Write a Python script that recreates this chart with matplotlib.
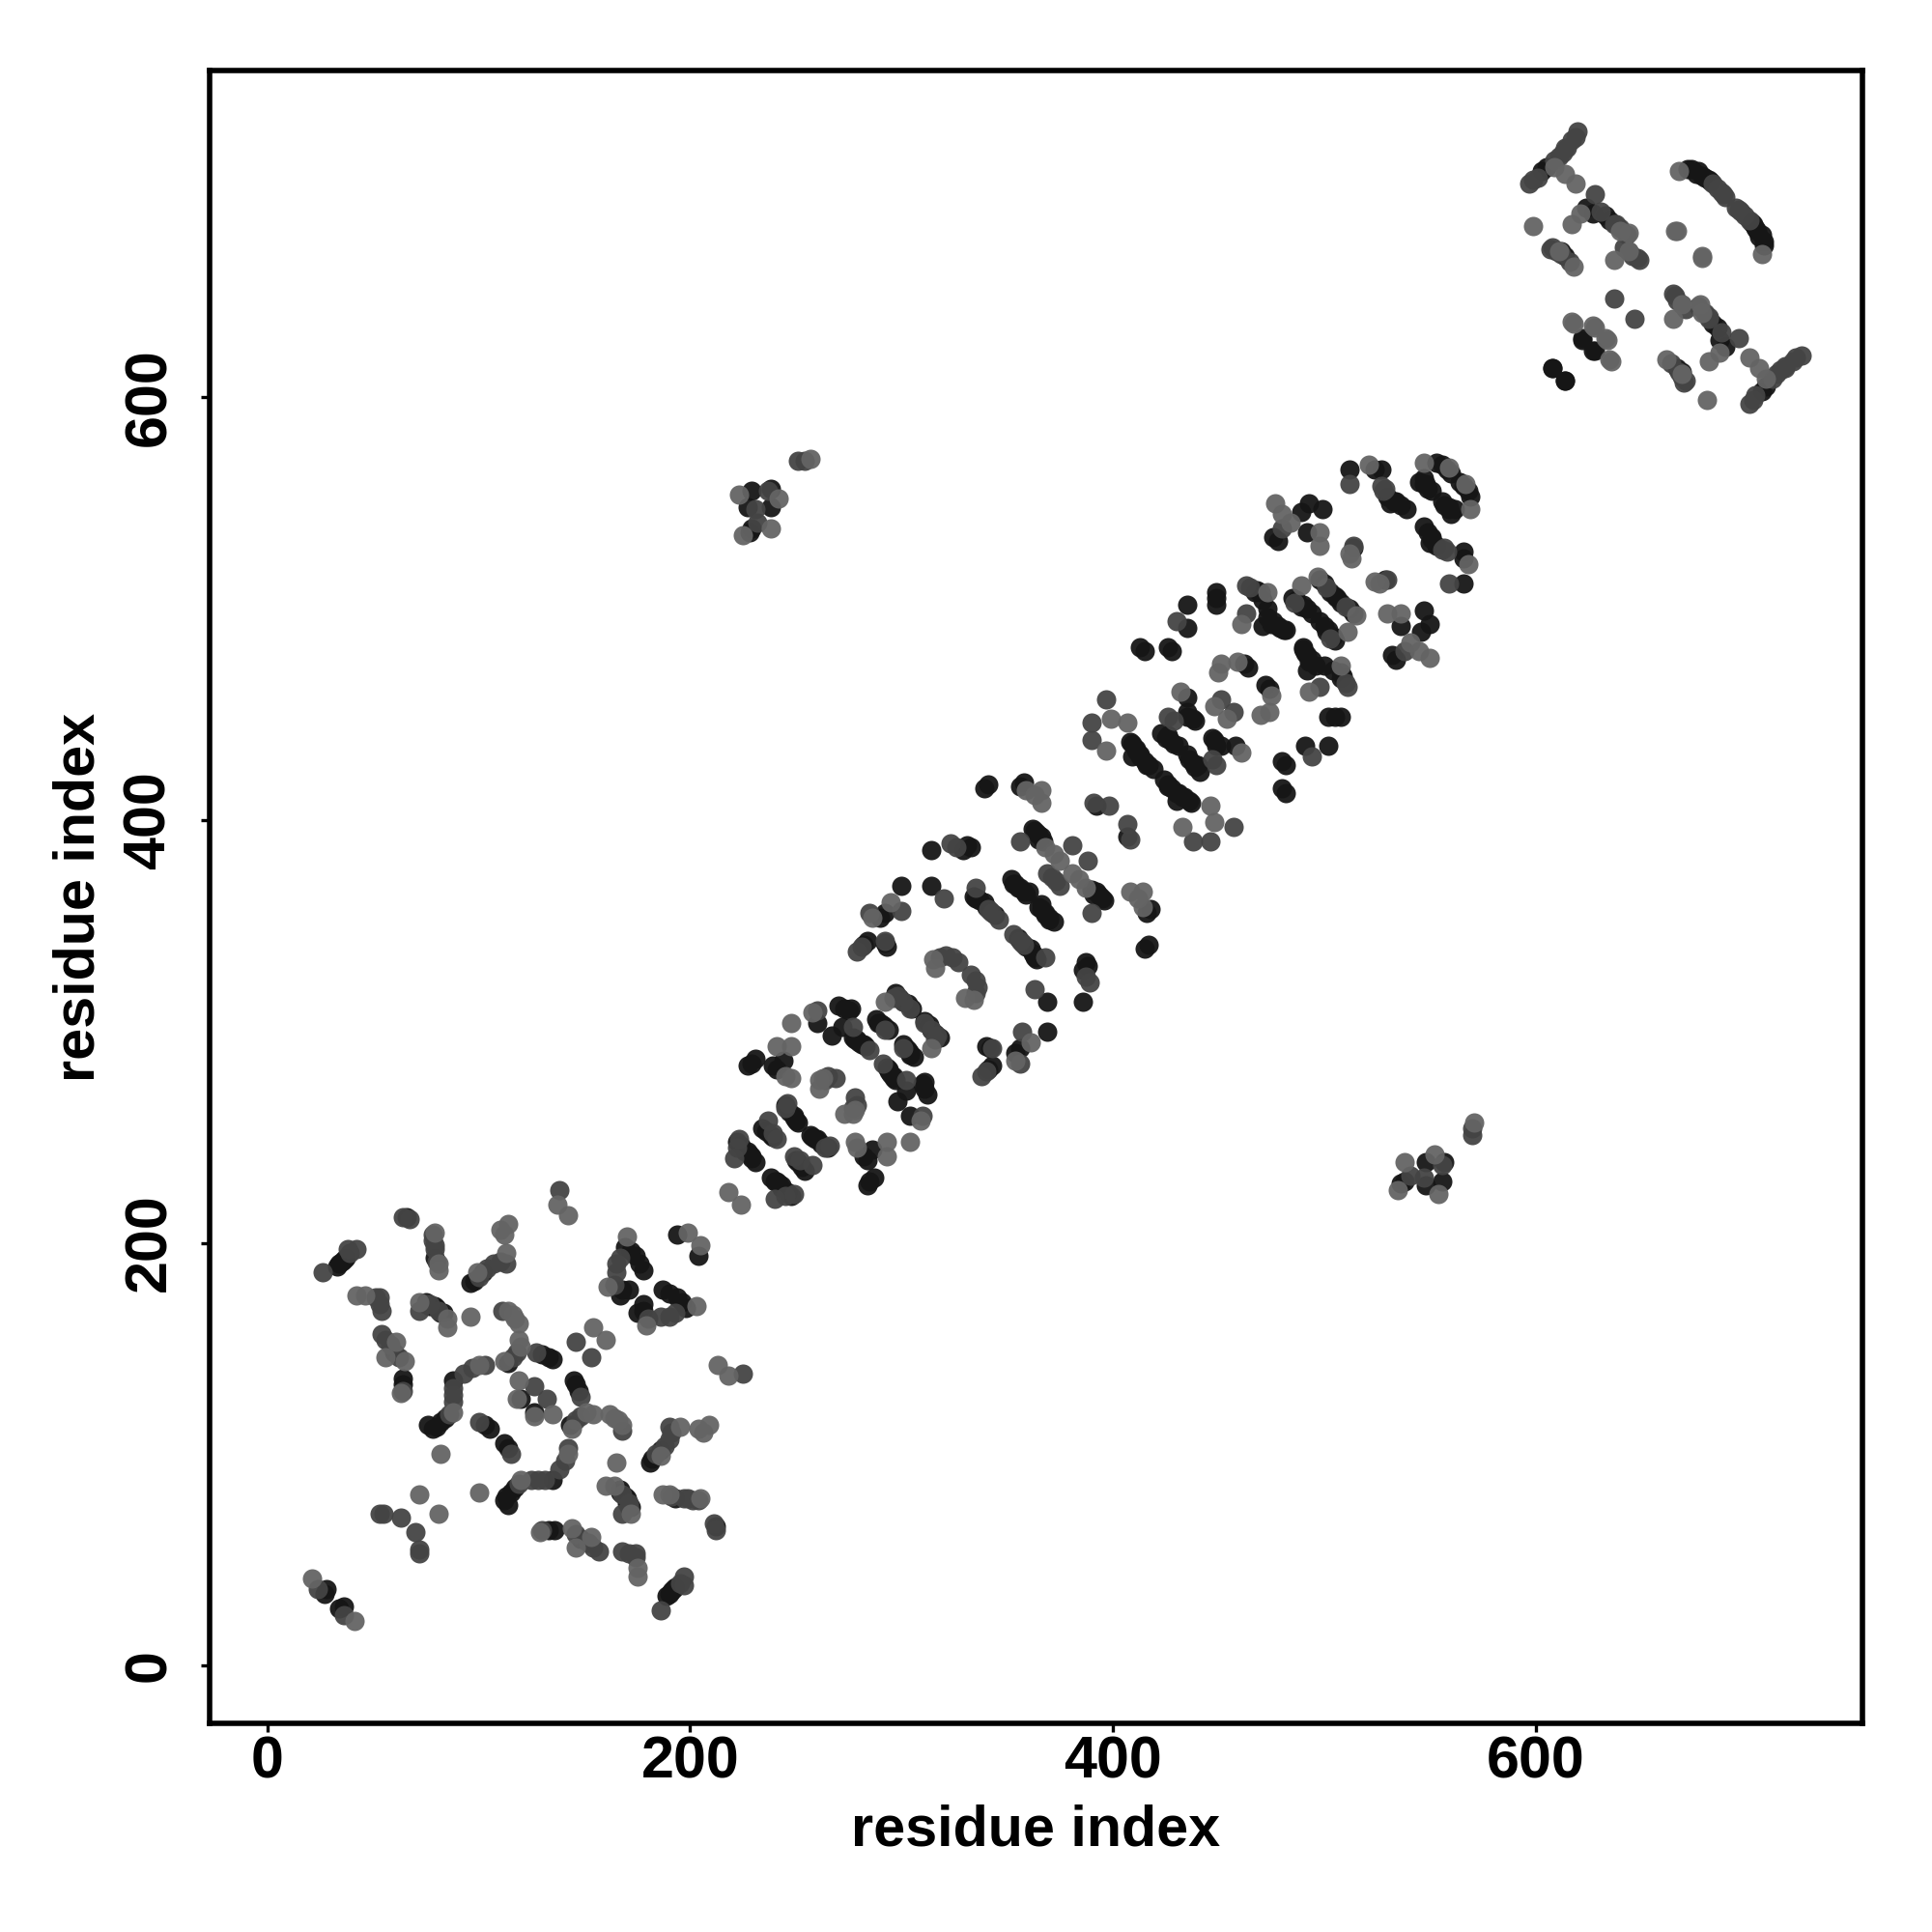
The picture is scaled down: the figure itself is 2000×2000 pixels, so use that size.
import numpy as np
import matplotlib
matplotlib.use('Agg')
import matplotlib.pyplot as plt

plt.rcParams['font.family'] = ['Liberation Sans', 'DejaVu Sans']

# contact pairs (residue a, residue b), the map is symmetric so only a<b is listed
dark_pairs = [
    (27,34),(28,36),(33,189),(35,191),(37,193),(66,212),(79,193),(96,181),(98,182),(102,186),
    (79,170),(83,167),(60,148),(64,136),(64,133),(88,135),(84,117),(82,115),(80,113),(78,112),
    (76,114),(114,143),(130,147),(133,146),(135,145),(120,126),(103,114),(105,112),(194,204),
    (169,198),(172,196),(174,194),(178,187),(176,190),(167,175),(168,178),(171,178),
    (226,243),(229,240),(231,238),(228,242),(236,253),(238,251),(247,262),(250,258),(249,260),
    (227,284),(229,285),(231,287),(239,284),(241,282),(244,286),(260,304),(267,298),(272,302),
    (270,312),(273,311),(275,310),(276,311),(278,296),(280,295),(282,294),(289,304),(291,303),
    (284,343),(282,341),(293,340),(292,342),(292,356),(290,354),(300,369),(314,386),(329,386),
    (333,387),(331,388),(314,369),(335,363),(337,362),(339,361),(353,370),(355,368),(358,366),
    (360,366),(364,394),(362,396),(366,392),(365,391),(341,417),(339,415),(356,416),(358,418),
    (392,407),(408,437),(409,430),(413,431),(416,426),(411,434),(435,458),(435,449),(439,447),
    (423,441),(429,436),(426,440),(464,472),(462,474),(413,482),(415,480),(428,480),(426,482),
    (435,491),(435,502),(449,502),(449,508),(449,505),(467,508),(473,500),(475,493),(478,492),
    (482,490),(471,504),(492,500),(490,502),(512,566),(527,566),(524,566),(531,550),(534,551),
    (539,547),(545,560),(549,557),(547,559),(556,568),(553,569),(493,550),(499,547),(489,546),
    (476,534),(478,532),(492,536),(529,514),(605,709),(603,707),(624,690),(627,687),(633,686),
    (635,684),(614,667),(612,669),(622,628),(627,622),(608,614),(614,608),(679,705),(682,703),
    (677,707),(229,556),(227,548),(238,557),(238,548),(228,536),(229,538),
    # denser parts of the strands
    (672,708),(674,708),(676,706),(680,704),(683,702),(547,562),(548,559),(551,556),(558,566),
    (560,564),(530,553),(533,551),(536,549),(485,505),(487,504),(489,501),(494,498),(498,514),
    (500,512),(503,508),(505,506),(471,492),(473,496),(476,494),(479,491),(481,490),(468,509),
    (470,508),(435,451),(438,448),(425,439),(427,438),(431,435),(409,436),(411,433),(413,430),
    (415,428),(417,426),(419,424),(222,248),(224,246),(227,243),(229,241),(234,254),(239,250),
    (245,265),(249,259),(251,257),(277,297),(279,296),(281,294),(283,293),(288,306),(290,304),
    (292,302),(294,301),(297,318),(299,316),(301,314),(303,313),(305,311),(352,372),(354,370),
    (356,368),(359,365),(334,364),(336,363),(340,359),(342,357),(344,355),(363,395),(365,393),
    (367,390),(75,172),(77,170),(80,169),(82,167),(34,190),(36,192),
]
mid_pairs = [
    (24,36),(26,186),(39,195),(42,197),(38,197),(64,212),(67,211),(78,204),(78,201),(79,199),
    (79,197),(80,191),(100,184),(104,188),(107,190),(110,191),(113,190),(51,174),(53,174),
    (53,171),(54,168),(72,168),(75,171),(77,171),(81,168),(111,168),(146,153),(54,157),(56,154),
    (58,152),(62,146),(64,130),(103,142),(97,141),(93,138),(88,131),(88,128),(88,125),(86,119),
    (118,148),(116,146),(127,148),(126,132),(100,115),(55,72),(53,72),(63,70),(138,225),
    (165,190),(167,193),(165,186),(164,180),(223,249),(221,240),(222,245),(237,258),(241,249),
    (239,252),(246,266),(245,264),(265,279),(269,278),(264,277),(260,310),(277,302),(285,291),
    (292,301),(298,317),(304,311),(301,314),(296,316),(279,338),(281,340),(292,343),(285,356),
    (300,357),(323,389),(326,387),(320,363),(335,368),(343,356),(346,353),(341,358),(318,335),
    (321,336),(324,335),(327,333),(356,390),(369,375),(371,373),(381,388),(391,408),(398,407),
    (397,457),(390,446),(390,438),(426,449),(429,447),(451,457),(463,511),(463,498),(486,503),
    (501,510),(430,494),(512,559),(529,557),(514,530),(480,538),(620,726),(617,722),(614,718),
    (619,723),(601,704),(597,701),(599,703),(628,696),(637,682),(649,665),(637,647),(607,670),
    (684,701),(689,696),(251,570),(254,570),(231,547),(237,556),(232,541),
    # denser parts of the strands
    (609,712),(611,714),(613,716),(615,718),(686,699),(688,697),(690,695),(642,671),(644,669),
    (646,667),(648,666),(608,671),(610,669),(612,668),(616,664),(631,688),(638,682),(640,680),
    (643,677),(527,558),(528,556),(465,510),
]
light_pairs = [
    (21,41),(81,190),(81,187),(79,205),(114,209),(110,206),(112,204),(113,195),(99,186),(42,175),
    (46,175),(72,172),(85,164),(85,160),(96,165),(114,168),(116,166),(117,164),(119,162),(154,160),
    (61,153),(56,146),(65,144),(63,129),(100,142),(88,120),(119,154),(120,151),(112,144),(119,135),
    (118,126),(82,100),(72,81),(218,224),(199,205),(137,218),(142,213),(170,203),(161,179),
    (261,277),(261,273),(263,278),(241,293),(248,293),(245,279),(248,278),(248,304),(258,309),
    (292,314),(286,354),(295,361),(315,334),(316,330),(368,387),(372,384),(375,381),(366,414),
    (359,414),(366,408),(363,412),(399,448),(397,433),(407,446),(432,461),(451,474),(450,470),
    (459,475),(448,454),(461,493),(473,508),(489,511),(497,515),(521,568),(547,569),(559,567),
    (477,550),(480,545),(484,541),(498,536),(498,530),(512,526),(524,513),(599,681),(609,709),
    (614,706),(619,701),(621,687),(617,682),(640,679),(644,678),(611,669),(618,662),(637,665),
    (644,669),(617,636),(627,634),(633,628),(635,618),(668,707),(666,679),(679,667),(223,554),
    (257,571),(242,552),(238,538),(225,535),
]
ticks = [0, 200, 400, 600]

fig = plt.figure(figsize=(10, 10), dpi=200)
ax = fig.add_axes([217/2000, 1-1784/2000, (1928-217)/2000, (1784-73)/2000])

for pairs, col in [(dark_pairs, '#161616'), (mid_pairs, '#444444'), (light_pairs, '#646464')]:
    p = np.array(pairs)
    ax.scatter(np.r_[p[:,0], p[:,1]], np.r_[p[:,1], p[:,0]], s=52, c=col, alpha=0.95, linewidths=0)

ax.set_xlim(-27.4, 754.7)
ax.set_ylim(-27.4, 754.7)
ax.set_xticks(ticks)
ax.set_yticks(ticks)
ax.tick_params(length=3.2, width=1.2, labelsize=22)
ax.tick_params(axis='x', pad=1.3)
ax.tick_params(axis='y', pad=8.7)
for lab in ax.get_xticklabels():
    lab.set_fontweight('bold')
for lab in ax.get_yticklabels():
    lab.set_fontweight('bold')
    lab.set_rotation(90)
    lab.set_va('center')
for s in ax.spines.values():
    s.set_linewidth(2.0)
ax.set_xlabel('residue index', fontsize=21.4, fontweight='bold', labelpad=5)
ax.set_ylabel('residue index', fontsize=21.4, fontweight='bold', labelpad=6.3)

fig.savefig('out.png', dpi=200)
